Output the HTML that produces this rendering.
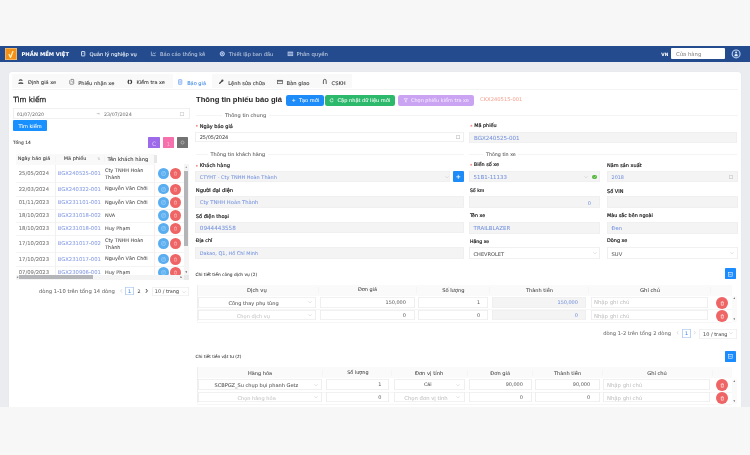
<!DOCTYPE html>
<html><head><meta charset="utf-8"><title>Báo giá</title>
<style>
html,body{margin:0;padding:0;}
body{width:750px;height:455px;overflow:hidden;position:relative;background:#f6f6f6;font-family:'DejaVu Sans', 'Liberation Sans', sans-serif;}
.a{position:absolute;box-sizing:border-box;}
.t{white-space:nowrap;-webkit-text-stroke-width:0.05px;}
svg{overflow:visible;}
</style></head><body>
<div id="root" class="a" style="left:0;top:0;width:750px;height:455px;will-change:transform">
<div class="a" style="left:0px;top:0px;width:750.00px;height:46.00px;background:#f7f7f7;"></div>
<div class="a" style="left:0px;top:46px;width:750.00px;height:16.00px;background:#234b8e;"></div>
<div class="a" style="left:0px;top:62px;width:750.00px;height:345.20px;background:#eaecf0;"></div>
<div class="a" style="left:9px;top:71.5px;width:732.30px;height:348.50px;background:#ffffff;border-radius:3px;box-shadow:0 0 1.5px rgba(0,0,0,0.06);"></div>
<div class="a" style="left:0px;top:407.2px;width:750.00px;height:47.80px;background:#f7f7f7;"></div>
<div class="a" style="left:5.1px;top:48.1px;width:12.00px;height:12.00px;background:#f39019;box-shadow:inset 0 0 0 0.7px #f6c27a;border-radius:0.5px;"></div>
<svg class="a" style="left:5.1px;top:48.1px" width="12" height="12" viewBox="0 0 12 12"><path d="M4.1 6.5 L5.5 9.5 L7.9 3.6" stroke="#fff3c0" stroke-width="1.3" fill="none" stroke-linecap="round" stroke-linejoin="round"/></svg>
<div class="a t" style="top:51.15px;height:6.30px;line-height:6.30px;font-size:5.25px;color:#ffffff;font-weight:bold;left:21.40px;">PHẦN MỀM VIỆT</div>
<div class="a t" style="top:51.38px;height:6.24px;line-height:6.24px;font-size:5.20px;color:#ffffff;left:89.40px;">Quản lý nghiệp vụ</div>
<div class="a t" style="top:51.38px;height:6.24px;line-height:6.24px;font-size:5.20px;color:#c3cde0;left:160.00px;">Báo cáo thống kê</div>
<div class="a t" style="top:51.46px;height:6.09px;line-height:6.09px;font-size:5.07px;color:#c3cde0;left:228.80px;">Thiết lập ban đầu</div>
<div class="a t" style="top:51.30px;height:6.39px;line-height:6.39px;font-size:5.33px;color:#c3cde0;left:296.50px;">Phân quyền</div>
<div class="a t" style="top:51.89px;height:5.21px;line-height:5.21px;font-size:4.35px;color:#ffffff;font-weight:bold;left:661.30px;">VN</div>
<div class="a" style="left:671.3px;top:48.4px;width:53.40px;height:10.40px;background:#ffffff;border-radius:1px;"></div>
<div class="a t" style="top:51.02px;height:6.35px;line-height:6.35px;font-size:5.29px;color:#8a8a8a;left:676.00px;">Cửa hàng</div>
<div class="a" style="left:12.1px;top:74.2px;width:339.80px;height:14.20px;background:#f9f9f9;border-radius:1px;"></div>
<div class="a" style="left:172.6px;top:74.2px;width:39.20px;height:14.20px;background:#ffffff;"></div>
<div class="a t" style="top:79.73px;height:5.94px;line-height:5.94px;font-size:4.95px;color:#3a3a3a;left:28.00px;-webkit-text-stroke:0.1px #3a3a3a;">Định giá xe</div>
<div class="a t" style="top:79.65px;height:6.09px;line-height:6.09px;font-size:5.08px;color:#3a3a3a;left:78.30px;-webkit-text-stroke:0.1px #3a3a3a;">Phiếu nhận xe</div>
<div class="a t" style="top:79.75px;height:5.90px;line-height:5.90px;font-size:4.92px;color:#3a3a3a;left:136.50px;-webkit-text-stroke:0.1px #3a3a3a;">Kiểm tra xe</div>
<div class="a t" style="top:79.70px;height:6.01px;line-height:6.01px;font-size:5.01px;color:#4a8fe6;left:187.20px;-webkit-text-stroke:0.1px #4a8fe6;">Báo giá</div>
<div class="a t" style="top:79.67px;height:6.05px;line-height:6.05px;font-size:5.05px;color:#3a3a3a;left:228.30px;-webkit-text-stroke:0.1px #3a3a3a;">Lệnh sửa chữa</div>
<div class="a t" style="top:79.57px;height:6.26px;line-height:6.26px;font-size:5.22px;color:#3a3a3a;left:286.50px;-webkit-text-stroke:0.1px #3a3a3a;">Bàn giao</div>
<div class="a t" style="top:79.64px;height:6.13px;line-height:6.13px;font-size:5.11px;color:#3a3a3a;left:331.60px;-webkit-text-stroke:0.1px #3a3a3a;">CSKH</div>
<div class="a t" style="top:96.10px;height:8.61px;line-height:8.61px;font-size:7.17px;color:#262626;left:13.20px;-webkit-text-stroke:0.25px #262626;">Tìm kiếm</div>
<div class="a" style="left:13.2px;top:108.4px;width:176.50px;height:11.00px;background:#fff;box-shadow:inset 0 0 0 0.6px #e4e4e4;border-radius:1px;"></div>
<div class="a t" style="top:111.67px;height:5.66px;line-height:5.66px;font-size:4.72px;color:#7c7c7c;left:16.80px;">01/07/2020</div>
<div class="a t" style="top:111.90px;height:4.80px;line-height:4.80px;font-size:4.00px;color:#b0b0b0;left:96.40px;">→</div>
<div class="a t" style="top:111.61px;height:5.79px;line-height:5.79px;font-size:4.82px;color:#7c7c7c;left:104.00px;">23/07/2024</div>
<div class="a" style="left:180.2px;top:111.6px;width:4.20px;height:4.20px;box-shadow:inset 0 0 0 0.5px #c0c0c0;border-radius:0.4px;"></div>
<div class="a" style="left:13.2px;top:120.2px;width:33.80px;height:10.60px;background:#1890ff;border-radius:1px;"></div>
<div class="a t" style="top:122.97px;height:6.07px;line-height:6.07px;font-size:5.06px;color:#fff;left:-69.90px;width:200px;text-align:center;">Tìm kiếm</div>
<div class="a t" style="top:140.28px;height:5.23px;line-height:5.23px;font-size:4.36px;color:#333;left:12.90px;">Tổng 14</div>
<div class="a" style="left:148.2px;top:137px;width:11.40px;height:11.10px;background:#9d6aea;border-radius:0.6px;"></div>
<div class="a" style="left:162.6px;top:137px;width:11.30px;height:11.10px;background:#f570ad;border-radius:0.6px;"></div>
<div class="a" style="left:176.8px;top:137px;width:11.20px;height:11.10px;background:#737373;border-radius:0.6px;"></div>
<div class="a t" style="top:139.90px;height:7.20px;line-height:7.20px;font-size:6.00px;color:#dcc4fb;left:54.00px;width:200px;text-align:center;">C</div>
<div class="a t" style="top:140.50px;height:6.00px;line-height:6.00px;font-size:5.00px;color:#fbb5d5;left:68.30px;width:200px;text-align:center;">1</div>
<svg class="a" style="left:179.9px;top:140.1px" width="5" height="5" viewBox="0 0 10 10"><circle cx="5" cy="5" r="3" fill="none" stroke="#b4b4b4" stroke-width="1.8"/></svg>
<div class="a" style="left:15.6px;top:153.6px;width:139.90px;height:11.40px;background:#f9f9f9;"></div>
<div class="a" style="left:54.900000000000006px;top:156px;width:0.60px;height:6.40px;background:#f4f4f4;"></div>
<div class="a" style="left:103.5px;top:156px;width:0.60px;height:6.40px;background:#f4f4f4;"></div>
<div class="a" style="left:154px;top:155.3px;width:2.60px;height:8.00px;background:#e6e6e6;"></div>
<div class="a t" style="top:156.35px;height:5.90px;line-height:5.90px;font-size:4.92px;color:#333;left:17.80px;">Ngày báo giá</div>
<div class="a t" style="top:156.33px;height:5.94px;line-height:5.94px;font-size:4.95px;color:#333;left:63.80px;">Mã phiếu</div>
<div class="a t" style="top:156.19px;height:6.21px;line-height:6.21px;font-size:5.18px;color:#333;left:107.50px;">Tên khách hàng</div>
<div class="a t" style="top:157.14px;height:4.32px;line-height:4.32px;font-size:3.60px;color:#c8c8c8;left:97.30px;">⇅</div>
<div class="a" style="left:15.6px;top:165px;width:168.1px;height:109.8px;overflow:hidden">
<div class="a" style="left:0;top:16.5px;width:168px;height:0.5px;background:#f4f4f4"></div>
<div class="a t" style="top:5.25px;height:6.31px;line-height:6.31px;font-size:5.26px;color:#747474;left:3.20px;">25/05/2024</div>
<div class="a t" style="top:5.25px;height:6.31px;line-height:6.31px;font-size:5.26px;color:#8ba0e4;left:42.10px;">BGX240525-001</div>
<div class="a t" style="top:5.43px;height:5.94px;line-height:5.94px;font-size:4.95px;color:#4d4d4d;left:89.40px;line-height:7.8px;height:auto;top:1.50px;">Cty TNHH Hoàn<br>Thành</div>
<div class="a" style="left:142.3px;top:3.0500000000000007px;width:10.80px;height:10.90px;background:#5aaef0;border-radius:6px;"></div>
<div class="a" style="left:154.7px;top:3.0px;width:10.90px;height:11.00px;background:#ef6464;border-radius:6px;"></div>
<svg class="a" style="left:145.2px;top:6.00px" width="5" height="5" viewBox="0 0 10 10"><rect x="1.5" y="1.5" width="7" height="7" rx="1" fill="none" stroke="#b5dcfa" stroke-width="1.1"/><path d="M3.4 5.6 L7.6 1.6" stroke="#b5dcfa" stroke-width="1.1" fill="none"/></svg>
<svg class="a" style="left:157.7px;top:6.00px" width="5" height="5" viewBox="0 0 10 10"><path d="M2.2 2.6 H7.8 M3.2 2.6 V8.4 H6.8 V2.6 M4.2 1.4 H5.8" stroke="#f8c0c0" stroke-width="1.1" fill="none"/></svg>
<div class="a" style="left:0;top:30.5px;width:168px;height:0.5px;background:#f4f4f4"></div>
<div class="a t" style="top:20.75px;height:6.31px;line-height:6.31px;font-size:5.26px;color:#747474;left:3.20px;">22/03/2024</div>
<div class="a t" style="top:20.75px;height:6.31px;line-height:6.31px;font-size:5.26px;color:#8ba0e4;left:42.10px;">BGX240322-001</div>
<div class="a t" style="top:21.43px;height:5.94px;line-height:5.94px;font-size:4.95px;color:#4d4d4d;left:89.40px;">Nguyễn Văn Chởi</div>
<div class="a" style="left:142.3px;top:18.549999999999997px;width:10.80px;height:10.90px;background:#5aaef0;border-radius:6px;"></div>
<div class="a" style="left:154.7px;top:18.5px;width:10.90px;height:11.00px;background:#ef6464;border-radius:6px;"></div>
<svg class="a" style="left:145.2px;top:21.50px" width="5" height="5" viewBox="0 0 10 10"><rect x="1.5" y="1.5" width="7" height="7" rx="1" fill="none" stroke="#b5dcfa" stroke-width="1.1"/><path d="M3.4 5.6 L7.6 1.6" stroke="#b5dcfa" stroke-width="1.1" fill="none"/></svg>
<svg class="a" style="left:157.7px;top:21.50px" width="5" height="5" viewBox="0 0 10 10"><path d="M2.2 2.6 H7.8 M3.2 2.6 V8.4 H6.8 V2.6 M4.2 1.4 H5.8" stroke="#f8c0c0" stroke-width="1.1" fill="none"/></svg>
<div class="a" style="left:0;top:43.5px;width:168px;height:0.5px;background:#f4f4f4"></div>
<div class="a t" style="top:34.25px;height:6.31px;line-height:6.31px;font-size:5.26px;color:#747474;left:3.20px;">01/11/2023</div>
<div class="a t" style="top:34.25px;height:6.31px;line-height:6.31px;font-size:5.26px;color:#8ba0e4;left:42.10px;">BGX231101-001</div>
<div class="a t" style="top:34.93px;height:5.94px;line-height:5.94px;font-size:4.95px;color:#4d4d4d;left:89.40px;">Nguyễn Văn Chởi</div>
<div class="a" style="left:142.3px;top:32.05px;width:10.80px;height:10.90px;background:#5aaef0;border-radius:6px;"></div>
<div class="a" style="left:154.7px;top:32.0px;width:10.90px;height:11.00px;background:#ef6464;border-radius:6px;"></div>
<svg class="a" style="left:145.2px;top:35.00px" width="5" height="5" viewBox="0 0 10 10"><rect x="1.5" y="1.5" width="7" height="7" rx="1" fill="none" stroke="#b5dcfa" stroke-width="1.1"/><path d="M3.4 5.6 L7.6 1.6" stroke="#b5dcfa" stroke-width="1.1" fill="none"/></svg>
<svg class="a" style="left:157.7px;top:35.00px" width="5" height="5" viewBox="0 0 10 10"><path d="M2.2 2.6 H7.8 M3.2 2.6 V8.4 H6.8 V2.6 M4.2 1.4 H5.8" stroke="#f8c0c0" stroke-width="1.1" fill="none"/></svg>
<div class="a" style="left:0;top:56.5px;width:168px;height:0.5px;background:#f4f4f4"></div>
<div class="a t" style="top:47.25px;height:6.31px;line-height:6.31px;font-size:5.26px;color:#747474;left:3.20px;">18/10/2023</div>
<div class="a t" style="top:47.25px;height:6.31px;line-height:6.31px;font-size:5.26px;color:#8ba0e4;left:42.10px;">BGX231018-002</div>
<div class="a t" style="top:47.93px;height:5.94px;line-height:5.94px;font-size:4.95px;color:#4d4d4d;left:89.40px;">NVA</div>
<div class="a" style="left:142.3px;top:45.05px;width:10.80px;height:10.90px;background:#5aaef0;border-radius:6px;"></div>
<div class="a" style="left:154.7px;top:45.0px;width:10.90px;height:11.00px;background:#ef6464;border-radius:6px;"></div>
<svg class="a" style="left:145.2px;top:48.00px" width="5" height="5" viewBox="0 0 10 10"><rect x="1.5" y="1.5" width="7" height="7" rx="1" fill="none" stroke="#b5dcfa" stroke-width="1.1"/><path d="M3.4 5.6 L7.6 1.6" stroke="#b5dcfa" stroke-width="1.1" fill="none"/></svg>
<svg class="a" style="left:157.7px;top:48.00px" width="5" height="5" viewBox="0 0 10 10"><path d="M2.2 2.6 H7.8 M3.2 2.6 V8.4 H6.8 V2.6 M4.2 1.4 H5.8" stroke="#f8c0c0" stroke-width="1.1" fill="none"/></svg>
<div class="a" style="left:0;top:69.5px;width:168px;height:0.5px;background:#f4f4f4"></div>
<div class="a t" style="top:60.25px;height:6.31px;line-height:6.31px;font-size:5.26px;color:#747474;left:3.20px;">18/10/2023</div>
<div class="a t" style="top:60.25px;height:6.31px;line-height:6.31px;font-size:5.26px;color:#8ba0e4;left:42.10px;">BGX231018-001</div>
<div class="a t" style="top:60.93px;height:5.94px;line-height:5.94px;font-size:4.95px;color:#4d4d4d;left:89.40px;">Huy Phạm</div>
<div class="a" style="left:142.3px;top:58.05px;width:10.80px;height:10.90px;background:#5aaef0;border-radius:6px;"></div>
<div class="a" style="left:154.7px;top:58.0px;width:10.90px;height:11.00px;background:#ef6464;border-radius:6px;"></div>
<svg class="a" style="left:145.2px;top:61.00px" width="5" height="5" viewBox="0 0 10 10"><rect x="1.5" y="1.5" width="7" height="7" rx="1" fill="none" stroke="#b5dcfa" stroke-width="1.1"/><path d="M3.4 5.6 L7.6 1.6" stroke="#b5dcfa" stroke-width="1.1" fill="none"/></svg>
<svg class="a" style="left:157.7px;top:61.00px" width="5" height="5" viewBox="0 0 10 10"><path d="M2.2 2.6 H7.8 M3.2 2.6 V8.4 H6.8 V2.6 M4.2 1.4 H5.8" stroke="#f8c0c0" stroke-width="1.1" fill="none"/></svg>
<div class="a" style="left:0;top:86.5px;width:168px;height:0.5px;background:#f4f4f4"></div>
<div class="a t" style="top:75.25px;height:6.31px;line-height:6.31px;font-size:5.26px;color:#747474;left:3.20px;">17/10/2023</div>
<div class="a t" style="top:75.25px;height:6.31px;line-height:6.31px;font-size:5.26px;color:#8ba0e4;left:42.10px;">BGX231017-002</div>
<div class="a t" style="top:75.43px;height:5.94px;line-height:5.94px;font-size:4.95px;color:#4d4d4d;left:89.40px;line-height:7.8px;height:auto;top:71.50px;">Cty TNHH Hoàn<br>Thành</div>
<div class="a" style="left:142.3px;top:73.05000000000001px;width:10.80px;height:10.90px;background:#5aaef0;border-radius:6px;"></div>
<div class="a" style="left:154.7px;top:73.0px;width:10.90px;height:11.00px;background:#ef6464;border-radius:6px;"></div>
<svg class="a" style="left:145.2px;top:76.00px" width="5" height="5" viewBox="0 0 10 10"><rect x="1.5" y="1.5" width="7" height="7" rx="1" fill="none" stroke="#b5dcfa" stroke-width="1.1"/><path d="M3.4 5.6 L7.6 1.6" stroke="#b5dcfa" stroke-width="1.1" fill="none"/></svg>
<svg class="a" style="left:157.7px;top:76.00px" width="5" height="5" viewBox="0 0 10 10"><path d="M2.2 2.6 H7.8 M3.2 2.6 V8.4 H6.8 V2.6 M4.2 1.4 H5.8" stroke="#f8c0c0" stroke-width="1.1" fill="none"/></svg>
<div class="a" style="left:0;top:100.5px;width:168px;height:0.5px;background:#f4f4f4"></div>
<div class="a t" style="top:90.75px;height:6.31px;line-height:6.31px;font-size:5.26px;color:#747474;left:3.20px;">17/10/2023</div>
<div class="a t" style="top:90.75px;height:6.31px;line-height:6.31px;font-size:5.26px;color:#8ba0e4;left:42.10px;">BGX231017-001</div>
<div class="a t" style="top:91.43px;height:5.94px;line-height:5.94px;font-size:4.95px;color:#4d4d4d;left:89.40px;">Nguyễn Văn Chởi</div>
<div class="a" style="left:142.3px;top:88.55000000000001px;width:10.80px;height:10.90px;background:#5aaef0;border-radius:6px;"></div>
<div class="a" style="left:154.7px;top:88.5px;width:10.90px;height:11.00px;background:#ef6464;border-radius:6px;"></div>
<svg class="a" style="left:145.2px;top:91.50px" width="5" height="5" viewBox="0 0 10 10"><rect x="1.5" y="1.5" width="7" height="7" rx="1" fill="none" stroke="#b5dcfa" stroke-width="1.1"/><path d="M3.4 5.6 L7.6 1.6" stroke="#b5dcfa" stroke-width="1.1" fill="none"/></svg>
<svg class="a" style="left:157.7px;top:91.50px" width="5" height="5" viewBox="0 0 10 10"><path d="M2.2 2.6 H7.8 M3.2 2.6 V8.4 H6.8 V2.6 M4.2 1.4 H5.8" stroke="#f8c0c0" stroke-width="1.1" fill="none"/></svg>
<div class="a" style="left:0;top:113.5px;width:168px;height:0.5px;background:#f4f4f4"></div>
<div class="a t" style="top:104.25px;height:6.31px;line-height:6.31px;font-size:5.26px;color:#747474;left:3.20px;">07/09/2023</div>
<div class="a t" style="top:104.25px;height:6.31px;line-height:6.31px;font-size:5.26px;color:#8ba0e4;left:42.10px;">BGX230906-001</div>
<div class="a t" style="top:104.93px;height:5.94px;line-height:5.94px;font-size:4.95px;color:#4d4d4d;left:89.40px;">Huy Phạm</div>
<div class="a" style="left:142.3px;top:102.05000000000001px;width:10.80px;height:10.90px;background:#5aaef0;border-radius:6px;"></div>
<div class="a" style="left:154.7px;top:102.0px;width:10.90px;height:11.00px;background:#ef6464;border-radius:6px;"></div>
<svg class="a" style="left:145.2px;top:105.00px" width="5" height="5" viewBox="0 0 10 10"><rect x="1.5" y="1.5" width="7" height="7" rx="1" fill="none" stroke="#b5dcfa" stroke-width="1.1"/><path d="M3.4 5.6 L7.6 1.6" stroke="#b5dcfa" stroke-width="1.1" fill="none"/></svg>
<svg class="a" style="left:157.7px;top:105.00px" width="5" height="5" viewBox="0 0 10 10"><path d="M2.2 2.6 H7.8 M3.2 2.6 V8.4 H6.8 V2.6 M4.2 1.4 H5.8" stroke="#f8c0c0" stroke-width="1.1" fill="none"/></svg>
</div>
<div class="a" style="left:55px;top:165px;width:0.50px;height:109.80px;background:#f1f1f1;"></div>
<div class="a" style="left:154.4px;top:165px;width:0.80px;height:109.80px;background:#fbeee8;"></div>
<div class="a" style="left:183.7px;top:164.3px;width:5.10px;height:110.50px;background:#f5f5f5;"></div>
<div class="a" style="left:184.2px;top:171.4px;width:4.10px;height:74.30px;background:#b3b5b9;"></div>
<div class="a" style="left:15.6px;top:274.8px;width:168.10px;height:4.90px;background:#f5f5f5;"></div>
<div class="a" style="left:19.4px;top:275.3px;width:74.10px;height:3.90px;background:#b3b5b9;"></div>
<div class="a" style="left:183.7px;top:274.8px;width:5.10px;height:4.90px;background:#e9e9e9;"></div>
<div class="a t" style="top:165.88px;height:3.84px;line-height:3.84px;font-size:3.20px;color:#999;left:86.20px;width:200px;text-align:center;">▴</div>
<div class="a t" style="top:270.78px;height:3.84px;line-height:3.84px;font-size:3.20px;color:#555;left:86.20px;width:200px;text-align:center;">▾</div>
<div class="a t" style="top:275.78px;height:3.84px;line-height:3.84px;font-size:3.20px;color:#777;left:-82.80px;width:200px;text-align:center;">◂</div>
<div class="a t" style="top:275.78px;height:3.84px;line-height:3.84px;font-size:3.20px;color:#555;left:81.20px;width:200px;text-align:center;">▸</div>
<div class="a t" style="top:288.15px;height:6.30px;line-height:6.30px;font-size:5.25px;color:#6a6a6a;left:39.00px;">dòng 1-10 trên tổng 14 dòng</div>
<div class="a" style="left:125.4px;top:286.5px;width:8.40px;height:8.80px;background:#fff;box-shadow:inset 0 0 0 0.6px #8fb6f2;border-radius:0.8px;"></div>
<div class="a t" style="top:288.52px;height:5.76px;line-height:5.76px;font-size:4.80px;color:#4a8fe6;left:29.60px;width:200px;text-align:center;">1</div>
<div class="a t" style="top:288.62px;height:5.76px;line-height:5.76px;font-size:4.80px;color:#555;left:39.00px;width:200px;text-align:center;">2</div>
<div class="a" style="left:151.6px;top:286.8px;width:37.20px;height:9.40px;background:#fff;box-shadow:inset 0 0 0 0.6px #e8e8e8;border-radius:1px;"></div>
<div class="a t" style="top:288.93px;height:5.94px;line-height:5.94px;font-size:4.95px;color:#555;left:154.80px;">10 / trang</div>
<svg class="a" style="left:181.70px;top:290.50px" width="4" height="2.2" viewBox="0 0 8 4.4"><path d="M0.5 0.6 L4 3.8 L7.5 0.6" stroke="#bdbdbd" stroke-width="0.8" fill="none"/></svg>
<div class="a t" style="top:95.42px;height:9.15px;line-height:9.15px;font-size:7.63px;color:#2a2a2a;font-weight:bold;font-family:'Liberation Sans', sans-serif;left:196.00px;">Thông tin phiếu báo giá</div>
<div class="a" style="left:285.9px;top:94.8px;width:38.10px;height:11.20px;background:#1d8cf8;border-radius:2.2px;"></div>
<div class="a t" style="top:97.47px;height:6.06px;line-height:6.06px;font-size:5.05px;color:#fff;left:298.90px;">Tạo mới</div>
<div class="a" style="left:324.8px;top:94.8px;width:70.10px;height:11.20px;background:#2db96c;border-radius:2.2px;"></div>
<div class="a t" style="top:97.46px;height:6.08px;line-height:6.08px;font-size:5.06px;color:#fff;left:337.60px;">Cập nhật dữ liệu mới</div>
<div class="a" style="left:398px;top:95px;width:76.00px;height:10.60px;background:#cba3f3;border-radius:2.2px;"></div>
<div class="a t" style="top:97.72px;height:5.96px;line-height:5.96px;font-size:4.96px;color:#f3e8ff;left:411.00px;">Chọn phiếu kiểm tra xe</div>
<div class="a t" style="top:95.97px;height:6.26px;line-height:6.26px;font-size:5.22px;color:#f4ab9c;left:480.00px;">CKX240515-001</div>
<div class="a" style="left:196px;top:115.3px;width:26.00px;height:0.50px;background:#f4f4f4;"></div>
<div class="a" style="left:268.5px;top:115.3px;width:469.10px;height:0.50px;background:#f4f4f4;"></div>
<div class="a t" style="top:111.87px;height:6.07px;line-height:6.07px;font-size:5.05px;color:#555;left:225.00px;">Thông tin chung</div>
<div class="a t" style="top:124.20px;height:5.40px;line-height:5.40px;font-size:4.50px;color:#f06a5a;left:195.80px;">*</div>
<div class="a t" style="top:123.08px;height:6.05px;line-height:6.05px;font-size:5.04px;color:#262626;left:199.70px;-webkit-text-stroke:0.2px #262626;">Ngày báo giá</div>
<div class="a" style="left:195.4px;top:132px;width:268.80px;height:10.40px;background:#fff;box-shadow:inset 0 0 0 0.6px #e4e4e4;border-radius:1.2px;"></div>
<div class="a t" style="top:134.72px;height:5.95px;line-height:5.95px;font-size:4.96px;color:#444;left:199.70px;">25/05/2024</div>
<div class="a" style="left:456.2px;top:135.1px;width:3.80px;height:3.80px;box-shadow:inset 0 0 0 0.5px #b8b8b8;border-radius:0.4px;"></div>
<div class="a t" style="top:124.40px;height:5.40px;line-height:5.40px;font-size:4.50px;color:#f06a5a;left:470.30px;">*</div>
<div class="a t" style="top:123.35px;height:5.91px;line-height:5.91px;font-size:4.92px;color:#262626;left:474.20px;-webkit-text-stroke:0.2px #262626;">Mã phiếu</div>
<div class="a" style="left:469.4px;top:132px;width:268.00px;height:11.20px;background:#f4f4f4;box-shadow:inset 0 0 0 0.6px #ebebeb;border-radius:1.2px;"></div>
<div class="a t" style="top:134.77px;height:6.66px;line-height:6.66px;font-size:5.55px;color:#7593de;left:474.00px;">BGX240525-001</div>
<div class="a" style="left:196px;top:154.3px;width:12.00px;height:0.50px;background:#f4f4f4;"></div>
<div class="a" style="left:267.5px;top:154.3px;width:196.70px;height:0.50px;background:#f4f4f4;"></div>
<div class="a t" style="top:150.88px;height:6.04px;line-height:6.04px;font-size:5.03px;color:#555;left:210.50px;">Thông tin khách hàng</div>
<div class="a" style="left:469.4px;top:153.5px;width:14.10px;height:0.50px;background:#f4f4f4;"></div>
<div class="a" style="left:518px;top:153.5px;width:219.40px;height:0.50px;background:#f4f4f4;"></div>
<div class="a t" style="top:151.54px;height:5.73px;line-height:5.73px;font-size:4.77px;color:#555;left:486.00px;">Thông tin xe</div>
<div class="a t" style="top:163.50px;height:5.40px;line-height:5.40px;font-size:4.50px;color:#f06a5a;left:195.80px;">*</div>
<div class="a t" style="top:162.33px;height:6.14px;line-height:6.14px;font-size:5.12px;color:#262626;left:199.70px;-webkit-text-stroke:0.2px #262626;">Khách hàng</div>
<div class="a" style="left:195.4px;top:171.2px;width:255.00px;height:11.20px;background:#f4f4f4;box-shadow:inset 0 0 0 0.6px #ebebeb;border-radius:1.2px;"></div>
<div class="a t" style="top:174.41px;height:5.98px;line-height:5.98px;font-size:4.98px;color:#7593de;left:199.80px;">CTYHT - Cty TNHH Hoàn Thành</div>
<svg class="a" style="left:444.60px;top:176.00px" width="4" height="2.2" viewBox="0 0 8 4.4"><path d="M0.5 0.6 L4 3.8 L7.5 0.6" stroke="#bdbdbd" stroke-width="0.8" fill="none"/></svg>
<div class="a" style="left:453px;top:171.2px;width:10.60px;height:11.20px;background:#1d8cf8;border-radius:1px;"></div>
<div class="a t" style="top:187.20px;height:6.19px;line-height:6.19px;font-size:5.16px;color:#262626;left:195.80px;-webkit-text-stroke:0.2px #262626;">Người đại diện</div>
<div class="a" style="left:195.4px;top:195.6px;width:268.80px;height:12.00px;background:#f4f4f4;box-shadow:inset 0 0 0 0.6px #ebebeb;border-radius:1.2px;"></div>
<div class="a t" style="top:199.36px;height:6.28px;line-height:6.28px;font-size:5.23px;color:#7593de;left:199.80px;">Cty TNHH Hoàn Thành</div>
<div class="a t" style="top:212.57px;height:6.06px;line-height:6.06px;font-size:5.05px;color:#262626;left:195.80px;-webkit-text-stroke:0.2px #262626;">Số điện thoại</div>
<div class="a" style="left:195.4px;top:222.1px;width:268.80px;height:11.30px;background:#f4f4f4;box-shadow:inset 0 0 0 0.6px #ebebeb;border-radius:1.2px;"></div>
<div class="a t" style="top:224.91px;height:6.79px;line-height:6.79px;font-size:5.66px;color:#7593de;left:199.80px;">0944443558</div>
<div class="a t" style="top:238.43px;height:5.75px;line-height:5.75px;font-size:4.79px;color:#262626;left:195.80px;-webkit-text-stroke:0.2px #262626;">Địa chỉ</div>
<div class="a" style="left:195.4px;top:247px;width:268.80px;height:12.00px;background:#f4f4f4;box-shadow:inset 0 0 0 0.6px #ebebeb;border-radius:1.2px;"></div>
<div class="a t" style="top:250.65px;height:5.91px;line-height:5.91px;font-size:4.92px;color:#7593de;left:199.80px;">Dakao, Q1, Hồ Chí Minh</div>
<div class="a t" style="top:163.00px;height:5.40px;line-height:5.40px;font-size:4.50px;color:#f06a5a;left:469.90px;">*</div>
<div class="a t" style="top:161.96px;height:5.89px;line-height:5.89px;font-size:4.91px;color:#262626;left:473.80px;-webkit-text-stroke:0.2px #262626;">Biển số xe</div>
<div class="a" style="left:469.4px;top:171.3px;width:130.60px;height:11.20px;background:#f4f4f4;box-shadow:inset 0 0 0 0.6px #ebebeb;border-radius:1.2px;"></div>
<div class="a t" style="top:174.23px;height:6.53px;line-height:6.53px;font-size:5.44px;color:#7593de;left:473.60px;">51B1-11133</div>
<svg class="a" style="left:583.70px;top:176.00px" width="4" height="2.2" viewBox="0 0 8 4.4"><path d="M0.5 0.6 L4 3.8 L7.5 0.6" stroke="#bdbdbd" stroke-width="0.8" fill="none"/></svg>
<div class="a" style="left:592.4px;top:174.7px;width:4.40px;height:4.40px;background:#52b43a;border-radius:3px;"></div>
<div class="a t" style="top:161.91px;height:5.98px;line-height:5.98px;font-size:4.98px;color:#262626;left:607.00px;-webkit-text-stroke:0.2px #262626;">Năm sản xuất</div>
<div class="a" style="left:606.8px;top:171.3px;width:130.80px;height:11.20px;background:#f4f4f4;box-shadow:inset 0 0 0 0.6px #ebebeb;border-radius:1.2px;"></div>
<div class="a t" style="top:174.58px;height:5.85px;line-height:5.85px;font-size:4.87px;color:#7593de;left:611.60px;">2018</div>
<div class="a" style="left:729px;top:174.9px;width:3.60px;height:3.70px;box-shadow:inset 0 0 0 0.5px #c0c0c0;border-radius:0.4px;"></div>
<div class="a t" style="top:187.89px;height:5.62px;line-height:5.62px;font-size:4.68px;color:#262626;left:469.90px;-webkit-text-stroke:0.2px #262626;">Số km</div>
<div class="a" style="left:469.4px;top:196.4px;width:130.60px;height:11.40px;background:#f4f4f4;box-shadow:inset 0 0 0 0.6px #ebebeb;border-radius:1.2px;"></div>
<div class="a t" style="top:199.60px;height:6.00px;line-height:6.00px;font-size:5.00px;color:#7593de;right:159.20px;">0</div>
<div class="a t" style="top:187.69px;height:6.01px;line-height:6.01px;font-size:5.01px;color:#262626;left:607.00px;-webkit-text-stroke:0.2px #262626;">Số VIN</div>
<div class="a" style="left:606.8px;top:196.4px;width:130.80px;height:11.40px;background:#f4f4f4;box-shadow:inset 0 0 0 0.6px #ebebeb;border-radius:1.2px;"></div>
<div class="a t" style="top:213.46px;height:5.68px;line-height:5.68px;font-size:4.73px;color:#262626;left:469.90px;-webkit-text-stroke:0.2px #262626;">Tên xe</div>
<div class="a" style="left:469.4px;top:222.2px;width:130.60px;height:11.80px;background:#f4f4f4;box-shadow:inset 0 0 0 0.6px #ebebeb;border-radius:1.2px;"></div>
<div class="a t" style="top:225.35px;height:6.49px;line-height:6.49px;font-size:5.41px;color:#7593de;left:473.60px;">TRAILBLAZER</div>
<div class="a t" style="top:213.36px;height:5.87px;line-height:5.87px;font-size:4.89px;color:#262626;left:607.00px;-webkit-text-stroke:0.2px #262626;">Màu sắc bên ngoài</div>
<div class="a" style="left:606.8px;top:222.2px;width:130.80px;height:11.80px;background:#f4f4f4;box-shadow:inset 0 0 0 0.6px #ebebeb;border-radius:1.2px;"></div>
<div class="a t" style="top:225.49px;height:6.22px;line-height:6.22px;font-size:5.19px;color:#7593de;left:611.60px;">Đen</div>
<div class="a t" style="top:238.59px;height:5.61px;line-height:5.61px;font-size:4.68px;color:#262626;left:469.90px;-webkit-text-stroke:0.2px #262626;">Hãng xe</div>
<div class="a" style="left:469.4px;top:247.4px;width:130.60px;height:11.20px;background:#fff;box-shadow:inset 0 0 0 0.6px #e4e4e4;border-radius:1.2px;"></div>
<div class="a t" style="top:250.56px;height:6.07px;line-height:6.07px;font-size:5.06px;color:#555;left:473.60px;">CHEVROLET</div>
<svg class="a" style="left:593.30px;top:252.00px" width="4" height="2.2" viewBox="0 0 8 4.4"><path d="M0.5 0.6 L4 3.8 L7.5 0.6" stroke="#bdbdbd" stroke-width="0.8" fill="none"/></svg>
<div class="a t" style="top:238.45px;height:5.91px;line-height:5.91px;font-size:4.92px;color:#262626;left:607.00px;-webkit-text-stroke:0.2px #262626;">Dòng xe</div>
<div class="a" style="left:606.8px;top:247.4px;width:130.80px;height:11.20px;background:#fff;box-shadow:inset 0 0 0 0.6px #e4e4e4;border-radius:1.2px;"></div>
<div class="a t" style="top:250.50px;height:6.20px;line-height:6.20px;font-size:5.17px;color:#555;left:611.60px;">SUV</div>
<svg class="a" style="left:730.40px;top:252.00px" width="4" height="2.2" viewBox="0 0 8 4.4"><path d="M0.5 0.6 L4 3.8 L7.5 0.6" stroke="#bdbdbd" stroke-width="0.8" fill="none"/></svg>
<div class="a t" style="top:271.70px;height:5.20px;line-height:5.20px;font-size:4.33px;color:#333;left:195.40px;">Chi tiết tiền công dịch vụ (2)</div>
<div class="a" style="left:724.8px;top:268.4px;width:11.30px;height:11.10px;background:#1a8cff;border-radius:0.4px;"></div>
<svg class="a" style="left:728.10px;top:271.70px" width="4.7" height="4.7" viewBox="0 0 10 10"><rect x="1" y="1" width="8" height="8" fill="none" stroke="#e8f2ff" stroke-width="1.3"/><path d="M2.5 5 H7.5" stroke="#e8f2ff" stroke-width="1.3"/></svg>
<div class="a" style="left:197.2px;top:285.2px;width:534.70px;height:11.00px;background:#fafafa;"></div>
<div class="a" style="left:196.9px;top:285.2px;width:0.50px;height:35.80px;background:#eeeeee;"></div>
<div class="a" style="left:317.55px;top:287.3px;width:0.50px;height:5.50px;background:#f5f5f5;"></div>
<div class="a" style="left:416.35px;top:287.3px;width:0.50px;height:5.50px;background:#f5f5f5;"></div>
<div class="a" style="left:489.35px;top:287.3px;width:0.50px;height:5.50px;background:#f5f5f5;"></div>
<div class="a" style="left:588.35px;top:287.3px;width:0.50px;height:5.50px;background:#f5f5f5;"></div>
<div class="a" style="left:710.25px;top:287.3px;width:0.50px;height:5.50px;background:#f5f5f5;"></div>
<div class="a t" style="top:286.97px;height:6.26px;line-height:6.26px;font-size:5.22px;color:#444;left:156.90px;width:200px;text-align:center;">Dịch vụ</div>
<div class="a t" style="top:287.12px;height:5.96px;line-height:5.96px;font-size:4.97px;color:#444;left:267.50px;width:200px;text-align:center;">Đơn giá</div>
<div class="a t" style="top:287.02px;height:6.17px;line-height:6.17px;font-size:5.14px;color:#444;left:353.30px;width:200px;text-align:center;">Số lượng</div>
<div class="a t" style="top:287.09px;height:6.02px;line-height:6.02px;font-size:5.02px;color:#444;left:439.50px;width:200px;text-align:center;">Thành tiền</div>
<div class="a t" style="top:286.98px;height:6.25px;line-height:6.25px;font-size:5.21px;color:#444;left:550.00px;width:200px;text-align:center;">Ghi chú</div>
<div class="a" style="left:197.6px;top:296.6px;width:118.50px;height:11.10px;background:#fff;box-shadow:inset 0 0 0 0.6px #e4e4e4;border-radius:1.2px;"></div>
<div class="a t" style="top:299.61px;height:6.07px;line-height:6.07px;font-size:5.06px;color:#555;left:153.60px;width:200px;text-align:center;">Công thay phụ tùng</div>
<svg class="a" style="left:307.60px;top:301.05px" width="4" height="2.2" viewBox="0 0 8 4.4"><path d="M0.5 0.6 L4 3.8 L7.5 0.6" stroke="#bdbdbd" stroke-width="0.8" fill="none"/></svg>
<div class="a" style="left:319.9px;top:296.6px;width:95.10px;height:11.10px;background:#fff;box-shadow:inset 0 0 0 0.6px #e4e4e4;border-radius:1.2px;"></div>
<div class="a t" style="top:299.68px;height:5.94px;line-height:5.94px;font-size:4.95px;color:#666;right:344.10px;">150,000</div>
<div class="a" style="left:418px;top:296.6px;width:69.60px;height:11.10px;background:#fff;box-shadow:inset 0 0 0 0.6px #e4e4e4;border-radius:1.2px;"></div>
<div class="a t" style="top:299.68px;height:5.94px;line-height:5.94px;font-size:4.95px;color:#666;right:269.80px;">1</div>
<div class="a" style="left:491.5px;top:296.6px;width:94.90px;height:11.10px;background:#f4f4f4;box-shadow:inset 0 0 0 0.6px #ebebeb;border-radius:1.2px;"></div>
<div class="a t" style="top:299.68px;height:5.94px;line-height:5.94px;font-size:4.95px;color:#7593de;right:172.10px;">150,000</div>
<div class="a" style="left:590.7px;top:296.6px;width:117.70px;height:11.10px;background:#fff;box-shadow:inset 0 0 0 0.6px #e4e4e4;border-radius:1.2px;"></div>
<div class="a t" style="top:299.43px;height:6.44px;line-height:6.44px;font-size:5.37px;color:#c4c4c4;left:593.90px;">Nhập ghi chú</div>
<div class="a" style="left:197.2px;top:309.0px;width:534.70px;height:0.50px;background:#f6f6f6;"></div>
<div class="a" style="left:197.6px;top:310.3px;width:118.50px;height:10.10px;background:#fff;box-shadow:inset 0 0 0 0.6px #e4e4e4;border-radius:1.2px;"></div>
<div class="a t" style="top:312.80px;height:6.10px;line-height:6.10px;font-size:5.08px;color:#c4c4c4;left:153.40px;width:200px;text-align:center;">Chọn dịch vụ</div>
<svg class="a" style="left:307.60px;top:314.25px" width="4" height="2.2" viewBox="0 0 8 4.4"><path d="M0.5 0.6 L4 3.8 L7.5 0.6" stroke="#bdbdbd" stroke-width="0.8" fill="none"/></svg>
<div class="a" style="left:319.9px;top:310.3px;width:95.10px;height:10.10px;background:#fff;box-shadow:inset 0 0 0 0.6px #e4e4e4;border-radius:1.2px;"></div>
<div class="a t" style="top:312.88px;height:5.94px;line-height:5.94px;font-size:4.95px;color:#666;right:344.10px;">0</div>
<div class="a" style="left:418px;top:310.3px;width:69.60px;height:10.10px;background:#fff;box-shadow:inset 0 0 0 0.6px #e4e4e4;border-radius:1.2px;"></div>
<div class="a t" style="top:312.88px;height:5.94px;line-height:5.94px;font-size:4.95px;color:#666;right:269.80px;">0</div>
<div class="a" style="left:491.5px;top:310.3px;width:94.90px;height:10.10px;background:#f4f4f4;box-shadow:inset 0 0 0 0.6px #ebebeb;border-radius:1.2px;"></div>
<div class="a t" style="top:312.88px;height:5.94px;line-height:5.94px;font-size:4.95px;color:#7593de;right:172.10px;">0</div>
<div class="a" style="left:590.7px;top:310.3px;width:117.70px;height:10.10px;background:#fff;box-shadow:inset 0 0 0 0.6px #e4e4e4;border-radius:1.2px;"></div>
<div class="a t" style="top:312.63px;height:6.44px;line-height:6.44px;font-size:5.37px;color:#c4c4c4;left:593.90px;">Nhập ghi chú</div>
<div class="a" style="left:197.2px;top:321.7px;width:534.70px;height:0.50px;background:#f6f6f6;"></div>
<div class="a" style="left:715.9499999999999px;top:297.34999999999997px;width:11.70px;height:11.70px;background:#ef6464;border-radius:6px;"></div>
<svg class="a" style="left:719.50px;top:300.80px" width="4.6" height="4.8" viewBox="0 0 10 10"><path d="M1.5 2.4 H8.5 M2.8 2.4 V9 H7.2 V2.4 M3.8 1 H6.2" stroke="#fff" stroke-width="1.2" fill="none"/></svg>
<div class="a" style="left:715.9499999999999px;top:310.34999999999997px;width:11.70px;height:11.70px;background:#ef6464;border-radius:6px;"></div>
<svg class="a" style="left:719.50px;top:313.80px" width="4.6" height="4.8" viewBox="0 0 10 10"><path d="M1.5 2.4 H8.5 M2.8 2.4 V9 H7.2 V2.4 M3.8 1 H6.2" stroke="#fff" stroke-width="1.2" fill="none"/></svg>
<div class="a" style="left:731.9px;top:296px;width:4.70px;height:26.00px;background:#fafafa;"></div>
<div class="a t" style="top:297.48px;height:3.84px;line-height:3.84px;font-size:3.20px;color:#666;left:634.20px;width:200px;text-align:center;">▴</div>
<div class="a t" style="top:317.88px;height:3.84px;line-height:3.84px;font-size:3.20px;color:#666;left:634.20px;width:200px;text-align:center;">▾</div>
<div class="a t" style="top:330.01px;height:6.18px;line-height:6.18px;font-size:5.15px;color:#6a6a6a;left:603.20px;">dòng 1-2 trên tổng 2 dòng</div>
<div class="a" style="left:682.2px;top:328.8px;width:8.50px;height:8.90px;background:#fff;box-shadow:inset 0 0 0 0.6px #8fb6f2;border-radius:0.8px;"></div>
<div class="a t" style="top:330.82px;height:5.76px;line-height:5.76px;font-size:4.80px;color:#4a8fe6;left:586.45px;width:200px;text-align:center;">1</div>
<div class="a" style="left:699.4px;top:328.6px;width:37.80px;height:10.20px;background:#fff;box-shadow:inset 0 0 0 0.6px #e8e8e8;border-radius:1px;"></div>
<div class="a t" style="top:331.11px;height:5.99px;line-height:5.99px;font-size:4.99px;color:#555;left:703.00px;">10 / trang</div>
<svg class="a" style="left:729.20px;top:332.40px" width="4" height="2.2" viewBox="0 0 8 4.4"><path d="M0.5 0.6 L4 3.8 L7.5 0.6" stroke="#bdbdbd" stroke-width="0.8" fill="none"/></svg>
<div class="a t" style="top:354.06px;height:5.08px;line-height:5.08px;font-size:4.24px;color:#333;left:195.60px;">Chi tiết tiền vật tư (2)</div>
<div class="a" style="left:724.8px;top:351px;width:11.30px;height:11.10px;background:#1a8cff;border-radius:0.4px;"></div>
<svg class="a" style="left:728.10px;top:354.30px" width="4.7" height="4.7" viewBox="0 0 10 10"><rect x="1" y="1" width="8" height="8" fill="none" stroke="#e8f2ff" stroke-width="1.3"/><path d="M2.5 5 H7.5" stroke="#e8f2ff" stroke-width="1.3"/></svg>
<div class="a" style="left:197.2px;top:367.2px;width:534.70px;height:11.20px;background:#fafafa;"></div>
<div class="a" style="left:196.9px;top:367.2px;width:0.50px;height:35.80px;background:#eeeeee;"></div>
<div class="a" style="left:322.35px;top:369.5px;width:0.50px;height:6.00px;background:#f5f5f5;"></div>
<div class="a" style="left:391.25px;top:369.5px;width:0.50px;height:6.00px;background:#f5f5f5;"></div>
<div class="a" style="left:466.95px;top:369.5px;width:0.50px;height:6.00px;background:#f5f5f5;"></div>
<div class="a" style="left:532.25px;top:369.5px;width:0.50px;height:6.00px;background:#f5f5f5;"></div>
<div class="a" style="left:601.65px;top:369.5px;width:0.50px;height:6.00px;background:#f5f5f5;"></div>
<div class="a" style="left:711.75px;top:369.5px;width:0.50px;height:6.00px;background:#f5f5f5;"></div>
<div class="a t" style="top:369.69px;height:6.01px;line-height:6.01px;font-size:5.01px;color:#444;left:160.00px;width:200px;text-align:center;">Hàng hóa</div>
<div class="a t" style="top:369.77px;height:5.87px;line-height:5.87px;font-size:4.89px;color:#444;left:257.90px;width:200px;text-align:center;">Số lượng</div>
<div class="a t" style="top:369.58px;height:6.24px;line-height:6.24px;font-size:5.20px;color:#444;left:329.10px;width:200px;text-align:center;">Đơn vị tính</div>
<div class="a t" style="top:369.63px;height:6.15px;line-height:6.15px;font-size:5.12px;color:#444;left:400.20px;width:200px;text-align:center;">Đơn giá</div>
<div class="a t" style="top:369.65px;height:6.11px;line-height:6.11px;font-size:5.09px;color:#444;left:467.50px;width:200px;text-align:center;">Thành tiền</div>
<div class="a t" style="top:369.62px;height:6.15px;line-height:6.15px;font-size:5.13px;color:#444;left:557.00px;width:200px;text-align:center;">Ghi chú</div>
<div class="a" style="left:198px;top:379.2px;width:123.70px;height:11.20px;background:#fff;box-shadow:inset 0 0 0 0.6px #e4e4e4;border-radius:1.2px;"></div>
<div class="a t" style="top:382.27px;height:6.07px;line-height:6.07px;font-size:5.05px;color:#555;left:156.30px;width:200px;text-align:center;">SCBPGZ_Su chụp bụi phanh Getz</div>
<svg class="a" style="left:314.20px;top:383.70px" width="4" height="2.2" viewBox="0 0 8 4.4"><path d="M0.5 0.6 L4 3.8 L7.5 0.6" stroke="#bdbdbd" stroke-width="0.8" fill="none"/></svg>
<div class="a" style="left:326px;top:379.2px;width:63.30px;height:11.20px;background:#fff;box-shadow:inset 0 0 0 0.6px #e4e4e4;border-radius:1.2px;"></div>
<div class="a t" style="top:382.33px;height:5.94px;line-height:5.94px;font-size:4.95px;color:#666;right:368.60px;">1</div>
<div class="a" style="left:393.6px;top:379.2px;width:71.00px;height:11.20px;background:#fff;box-shadow:inset 0 0 0 0.6px #e4e4e4;border-radius:1.2px;"></div>
<div class="a t" style="top:382.43px;height:5.74px;line-height:5.74px;font-size:4.78px;color:#555;left:327.70px;width:200px;text-align:center;">Cái</div>
<svg class="a" style="left:456.20px;top:383.70px" width="4" height="2.2" viewBox="0 0 8 4.4"><path d="M0.5 0.6 L4 3.8 L7.5 0.6" stroke="#bdbdbd" stroke-width="0.8" fill="none"/></svg>
<div class="a" style="left:468.5px;top:379.2px;width:63.00px;height:11.20px;background:#fff;box-shadow:inset 0 0 0 0.6px #e4e4e4;border-radius:1.2px;"></div>
<div class="a t" style="top:382.33px;height:5.94px;line-height:5.94px;font-size:4.95px;color:#666;right:227.10px;">90,000</div>
<div class="a" style="left:535.1px;top:379.2px;width:64.60px;height:11.20px;background:#fff;box-shadow:inset 0 0 0 0.6px #e4e4e4;border-radius:1.2px;"></div>
<div class="a t" style="top:382.33px;height:5.94px;line-height:5.94px;font-size:4.95px;color:#666;right:159.90px;">90,000</div>
<div class="a" style="left:603.2px;top:379.2px;width:107.30px;height:11.20px;background:#fff;box-shadow:inset 0 0 0 0.6px #e4e4e4;border-radius:1.2px;"></div>
<div class="a t" style="top:382.11px;height:6.39px;line-height:6.39px;font-size:5.32px;color:#c4c4c4;left:607.00px;">Nhập ghi chú</div>
<div class="a" style="left:197.2px;top:391.59999999999997px;width:534.70px;height:0.50px;background:#f6f6f6;"></div>
<div class="a" style="left:198px;top:392.4px;width:123.70px;height:10.00px;background:#fff;box-shadow:inset 0 0 0 0.6px #e4e4e4;border-radius:1.2px;"></div>
<div class="a t" style="top:394.86px;height:6.07px;line-height:6.07px;font-size:5.06px;color:#c4c4c4;left:156.60px;width:200px;text-align:center;">Chọn hàng hóa</div>
<svg class="a" style="left:314.20px;top:396.30px" width="4" height="2.2" viewBox="0 0 8 4.4"><path d="M0.5 0.6 L4 3.8 L7.5 0.6" stroke="#bdbdbd" stroke-width="0.8" fill="none"/></svg>
<div class="a" style="left:326px;top:392.4px;width:63.30px;height:10.00px;background:#fff;box-shadow:inset 0 0 0 0.6px #e4e4e4;border-radius:1.2px;"></div>
<div class="a t" style="top:394.93px;height:5.94px;line-height:5.94px;font-size:4.95px;color:#666;right:368.60px;">0</div>
<div class="a" style="left:393.6px;top:392.4px;width:71.00px;height:10.00px;background:#fff;box-shadow:inset 0 0 0 0.6px #e4e4e4;border-radius:1.2px;"></div>
<div class="a t" style="top:394.74px;height:6.32px;line-height:6.32px;font-size:5.27px;color:#c4c4c4;left:326.00px;width:200px;text-align:center;">Chọn đơn vị tính</div>
<svg class="a" style="left:456.20px;top:396.30px" width="4" height="2.2" viewBox="0 0 8 4.4"><path d="M0.5 0.6 L4 3.8 L7.5 0.6" stroke="#bdbdbd" stroke-width="0.8" fill="none"/></svg>
<div class="a" style="left:468.5px;top:392.4px;width:63.00px;height:10.00px;background:#fff;box-shadow:inset 0 0 0 0.6px #e4e4e4;border-radius:1.2px;"></div>
<div class="a t" style="top:394.93px;height:5.94px;line-height:5.94px;font-size:4.95px;color:#666;right:227.10px;">0</div>
<div class="a" style="left:535.1px;top:392.4px;width:64.60px;height:10.00px;background:#fff;box-shadow:inset 0 0 0 0.6px #e4e4e4;border-radius:1.2px;"></div>
<div class="a t" style="top:394.93px;height:5.94px;line-height:5.94px;font-size:4.95px;color:#666;right:159.90px;">0</div>
<div class="a" style="left:603.2px;top:392.4px;width:107.30px;height:10.00px;background:#fff;box-shadow:inset 0 0 0 0.6px #e4e4e4;border-radius:1.2px;"></div>
<div class="a t" style="top:394.71px;height:6.39px;line-height:6.39px;font-size:5.32px;color:#c4c4c4;left:607.00px;">Nhập ghi chú</div>
<div class="a" style="left:197.2px;top:403.59999999999997px;width:534.70px;height:0.50px;background:#f6f6f6;"></div>
<div class="a" style="left:716.4499999999999px;top:379.25px;width:11.70px;height:11.70px;background:#ef6464;border-radius:6px;"></div>
<svg class="a" style="left:720.00px;top:382.70px" width="4.6" height="4.8" viewBox="0 0 10 10"><path d="M1.5 2.4 H8.5 M2.8 2.4 V9 H7.2 V2.4 M3.8 1 H6.2" stroke="#fff" stroke-width="1.2" fill="none"/></svg>
<div class="a" style="left:716.4499999999999px;top:392.04999999999995px;width:11.70px;height:11.70px;background:#ef6464;border-radius:6px;"></div>
<svg class="a" style="left:720.00px;top:395.50px" width="4.6" height="4.8" viewBox="0 0 10 10"><path d="M1.5 2.4 H8.5 M2.8 2.4 V9 H7.2 V2.4 M3.8 1 H6.2" stroke="#fff" stroke-width="1.2" fill="none"/></svg>
<div class="a" style="left:731.9px;top:378.5px;width:4.70px;height:25.50px;background:#fafafa;"></div>
<div class="a t" style="top:379.88px;height:3.84px;line-height:3.84px;font-size:3.20px;color:#666;left:634.40px;width:200px;text-align:center;">▴</div>
<div class="a t" style="top:400.08px;height:3.84px;line-height:3.84px;font-size:3.20px;color:#666;left:634.40px;width:200px;text-align:center;">▾</div>
<div class="a" style="left:12px;top:88.9px;width:726.00px;height:0.50px;background:#f4f4f4;"></div>
<svg class="a" style="left:0;top:0" width="750" height="455" viewBox="0 0 750 455"><rect x="81.5" y="51.5" width="3.3" height="4.4" rx="0.4" stroke="#dbe6f7" stroke-width="0.9" fill="none"/><path d="M82.4 53.2 H83.9" stroke="#dbe6f7" stroke-width="0.5"/><path d="M151.4 51.6 V55.6 H155.8" stroke="#b9c8e4" stroke-width="0.7" fill="none"/><path d="M152.4 54.3 L153.6 53.2 L154.4 53.9 L155.6 52.5" stroke="#cfe0ff" stroke-width="0.7" fill="none"/><circle cx="222.3" cy="53.8" r="2.1" stroke="#c9d8f2" stroke-width="0.9" fill="#5a7cbf"/><circle cx="222.3" cy="53.8" r="0.7" fill="#c9d8f2"/><rect x="288" y="52" width="4.8" height="3.7" stroke="#b9c8e4" stroke-width="0.7" fill="#8fa8d6"/><path d="M288.2 53.9 H292.6" stroke="#3d5f9e" stroke-width="0.6"/><path d="M19 80.6 Q20.7 79.2 22.4 80.6" stroke="#444" stroke-width="1.2" fill="none"/><path d="M18.4 83.5 Q20.8 82.5 23.2 83.5" stroke="#444" stroke-width="1.3" fill="none"/><path d="M71 79.4 H73.2 Q73.7 79.4 73.7 79.9 V83.7 Q73.7 84.2 73.2 84.2 H70.3 Q69.8 84.2 69.8 83.7 V80.6 Z" stroke="#666" stroke-width="0.7" fill="none"/><path d="M71 80.8 Q72.6 81 72.6 82.6" stroke="#777" stroke-width="0.6" fill="none"/><path d="M129.3 80.1 Q126.9 81.9 129.3 83.7" stroke="#333" stroke-width="1.2" fill="none"/><path d="M130.4 80.1 Q132.8 81.9 130.4 83.7" stroke="#333" stroke-width="1.2" fill="none"/><rect x="178.5" y="79.6" width="3.3" height="4.8" rx="0.5" stroke="#86aef2" stroke-width="0.8" fill="#dce8fd"/><path d="M179.3 81.3 H181 M179.3 82.6 H181" stroke="#86aef2" stroke-width="0.5"/><path d="M219.7 83.3 L221.9 81.1" stroke="#444" stroke-width="1.3" stroke-linecap="round"/><circle cx="222.4" cy="80.6" r="1.1" fill="#444"/><rect x="277.6" y="80.3" width="4.9" height="3.4" stroke="#555" stroke-width="0.7" fill="none"/><path d="M277.6 81 H282.5" stroke="#555" stroke-width="1"/><path d="M323.4 84 V81 Q323.4 79.3 324.8 79.3 Q326.2 79.3 326.2 81 V84" stroke="#555" stroke-width="0.9" fill="none"/><path d="M292.1 100.4 H295.3 M293.7 98.8 V102" stroke="#fff" stroke-width="0.6"/><path d="M333.2 100.6 A1.6 1.6 0 1 1 332.6 99.1" stroke="#fff" stroke-width="0.6" fill="none"/><path d="M332.2 98.4 L333.2 99 L332.4 99.9" stroke="#fff" stroke-width="0.5" fill="none"/><path d="M404.2 98.6 H407.4 L406.2 100.4 V102.2 L405.4 101.8 V100.4 Z" stroke="#fff" stroke-width="0.5" fill="none"/><path d="M121.9 289.2 L120.6 290.9 L121.9 292.6" stroke="#c8c8c8" stroke-width="0.6" fill="none"/><path d="M145.9 289 L147.4 290.9 L145.9 292.8" stroke="#333" stroke-width="0.9" fill="none"/><path d="M678.3 331.1 L677.1 332.7 L678.3 334.3" stroke="#c8c8c8" stroke-width="0.6" fill="none"/><path d="M694.1 331.1 L695.3 332.7 L694.1 334.3" stroke="#c8c8c8" stroke-width="0.6" fill="none"/><path d="M456.3 176.8 H460.3 M458.3 174.8 V178.8" stroke="#fff" stroke-width="0.8"/><path d="M593.5 177 L594.4 177.8 L595.8 176.1" stroke="#e8ffe0" stroke-width="0.5" fill="none"/><circle cx="736.1" cy="53.9" r="3.95" fill="#2c5499" stroke="#c2d6f5" stroke-width="1.05"/><circle cx="736.1" cy="52.5" r="0.95" fill="#e8f1ff"/><path d="M734.3 56.3 Q734.3 54.1 736.1 54.1 Q737.9 54.1 737.9 56.3 Z" fill="#e8f1ff"/></svg>
</div>
</body></html>
